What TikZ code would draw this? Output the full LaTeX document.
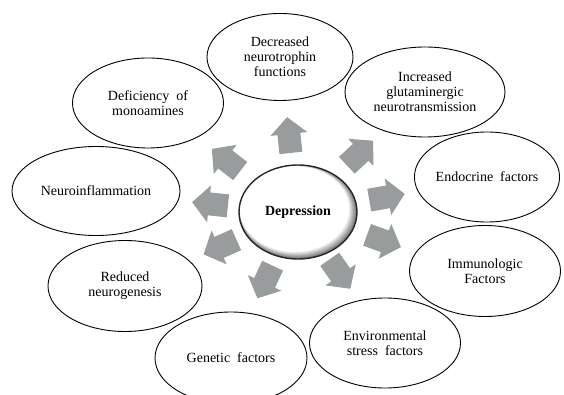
\documentclass[tikz,border=0pt]{standalone}
\usepackage{fontspec}
\setmainfont{Liberation Serif}
\usetikzlibrary{shapes.geometric}
\definecolor{arrgray}{RGB}{153,156,156}
\tikzset{
  factor/.style={ellipse, draw=black, line width=0.9pt, inner sep=0pt, align=center,
    font=\fontsize{14}{15}\selectfont},
  core/.style={ellipse, draw=black!85, line width=1.4pt, inner sep=0pt, align=center,
    minimum width=118pt, minimum height=94pt, font=\fontsize{14}{15}\selectfont\bfseries},
  blockarr/.pic={\fill[arrgray] (18,0) -- (1,18.5) -- (1,11.5) -- (-18,11.5) -- (-18,-11.5) -- (1,-11.5) -- (1,-18.5) -- cycle;}
}
\begin{document}
\begin{tikzpicture}[x=1pt,y=1pt]
\useasboundingbox (0,0) rectangle (564,-395);
% outer factors
\node[factor, minimum width=146pt, minimum height=87pt] (neurotrophin) at (280,-57) {Decreased\\neurotrophin\\functions};
\node[factor, minimum width=160pt, minimum height=90pt] (glutamate) at (425,-92) {Increased\\glutaminergic\\neurotransmission};
\node[factor, minimum width=140pt, minimum height=90pt] (endocrine) at (487,-177) {Endocrine\ \ factors};
\node[factor, minimum width=151pt, minimum height=91pt] (immuno) at (485,-271) {Immunologic\\Factors};
\node[factor, minimum width=151pt, minimum height=90pt] (environ) at (385,-343) {Environmental\\stress\ \ factors};
\node[factor, minimum width=152pt, minimum height=92pt] (genetic) at (231,-358) {Genetic\ \ factors};
\node[factor, minimum width=154pt, minimum height=91pt] (neurogen) at (125,-286) {Reduced\\neurogenesis};
\node[factor, minimum width=168pt, minimum height=89pt] (inflam) at (96,-191) {Neuroinflammation};
\node[factor, minimum width=151pt, minimum height=90pt] (monoamine) at (148,-103) {Deficiency\ \ of\\monoamines};
% block arrows
\pic[rotate=96]  (a1) at (289,-135) {blockarr};
\pic[rotate=43]  (a2) at (360,-153) {blockarr};
\pic[rotate=10]  (a3) at (387,-197) {blockarr};
\pic[rotate=-20] (a4) at (384,-241) {blockarr};
\pic[rotate=-55] (a5) at (340,-274) {blockarr};
\pic[rotate=-115] (a6) at (265,-282) {blockarr};
\pic[rotate=204] (a7) at (220,-247) {blockarr};
\pic[rotate=174] (a8) at (210,-204) {blockarr};
\pic[rotate=142] (a9) at (226,-160) {blockarr};
% central bevelled ellipse
\fill[black!55] (298,-212) ellipse [x radius=59, y radius=47];
\foreach \k [evaluate=\k as \c using 55-5.5*\k, evaluate=\k as \rx using 59-0.45*\k, evaluate=\k as \ry using 47-0.42*\k] in {1,...,10}
  \fill[black!\c] ({298-0.35*\k},{-212+0.3*\k}) ellipse [x radius=\rx, y radius=\ry];
\node[core] (dep) at (298,-212) {Depression};
\end{tikzpicture}
\end{document}
